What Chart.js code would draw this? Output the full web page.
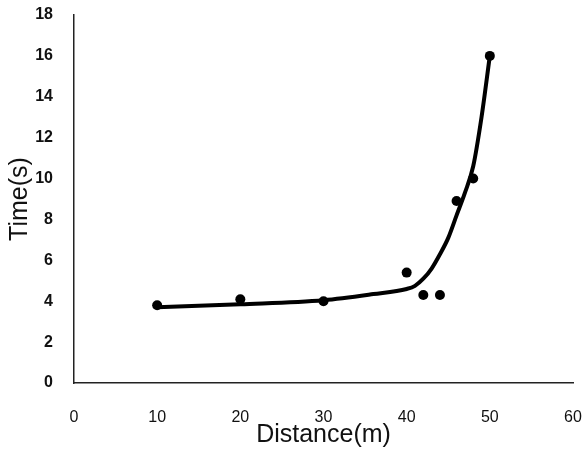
<!DOCTYPE html>
<html>
<head>
<meta charset="utf-8">
<script src="https://cdn.jsdelivr.net/npm/chart.js@4/dist/chart.umd.min.js"></script>
<style>
html,body{margin:0;padding:0;background:#fff;}
#wrap{width:584px;height:450px;position:relative;}
</style>
</head>
<body>
<div id="wrap"><canvas id="c" width="584" height="450"></canvas></div>
<script>
// Measured points
const distance = [10, 20, 30, 40, 42, 44, 46, 48, 50];
const time = [3.8, 4.1, 4.0, 5.4, 4.3, 4.3, 8.9, 10.0, 16.0];
// Fitted trend curve
const curveX = [10, 20, 30, 36, 40, 41, 42, 43, 44, 45, 46, 47, 48, 49, 50];
const curveY = [3.7, 3.85, 4.05, 4.35, 4.6, 4.75, 5.1, 5.6, 6.3, 7.1, 8.2, 9.3, 10.6, 13.0, 16.0];
const xTicks = [0, 10, 20, 30, 40, 50, 60];
const yTicks = [0, 2, 4, 6, 8, 10, 12, 14, 16, 18];

const pts = distance.map((d, i) => ({x: d, y: time[i]}));
const curve = curveX.map((d, i) => ({x: d, y: curveY[i]}));

new Chart(document.getElementById('c'), {
  type: 'scatter',
  data: {
    datasets: [
      {
        data: curve,
        showLine: true,
        borderColor: '#000',
        borderWidth: 4,
        pointRadius: 0,
        cubicInterpolationMode: 'monotone',
        fill: false
      },
      {
        data: pts,
        backgroundColor: '#000',
        borderColor: '#000',
        pointRadius: 5,
        pointBorderWidth: 0
      }
    ]
  },
  options: {
    responsive: false,
    animation: false,
    layout: {padding: {top: 15, right: 11, left: 0, bottom: 0}},
    plugins: {legend: {display: false}, tooltip: {enabled: false}},
    scales: {
      x: {
        type: 'linear',
        min: 0, max: 60,
        afterBuildTicks: (s) => { s.ticks = xTicks.map(v => ({value: v})); },
        afterFit: (s) => { s.height = 67; s.paddingLeft = 0; s.paddingRight = 0; },
        grid: {display: false, drawTicks: false},
        border: {display: true, color: '#222', width: 1.5},
        ticks: {padding: 25, color: '#111', font: {family: 'Liberation Sans', size: 16}},
        title: {display: true, text: 'Distance(m)', color: '#111', padding: {top: 0, bottom: 0},
                font: {family: 'Liberation Sans', size: 25}}
      },
      y: {
        type: 'linear',
        min: 0, max: 18,
        afterBuildTicks: (s) => { s.ticks = yTicks.map(v => ({value: v})); },
        afterFit: (s) => { s.width = 74; s.paddingTop = 0; s.paddingBottom = 0; },
        grid: {display: false, drawTicks: false},
        border: {display: true, color: '#222', width: 1.5},
        ticks: {padding: 21, color: '#111', font: {family: 'Liberation Sans', size: 16, weight: 'bold'}},
        title: {display: true, text: 'Time(s)', color: '#111', padding: {top: 5, bottom: 0},
                font: {family: 'Liberation Sans', size: 25}}
      }
    }
  }
});
</script>
</body>
</html>
